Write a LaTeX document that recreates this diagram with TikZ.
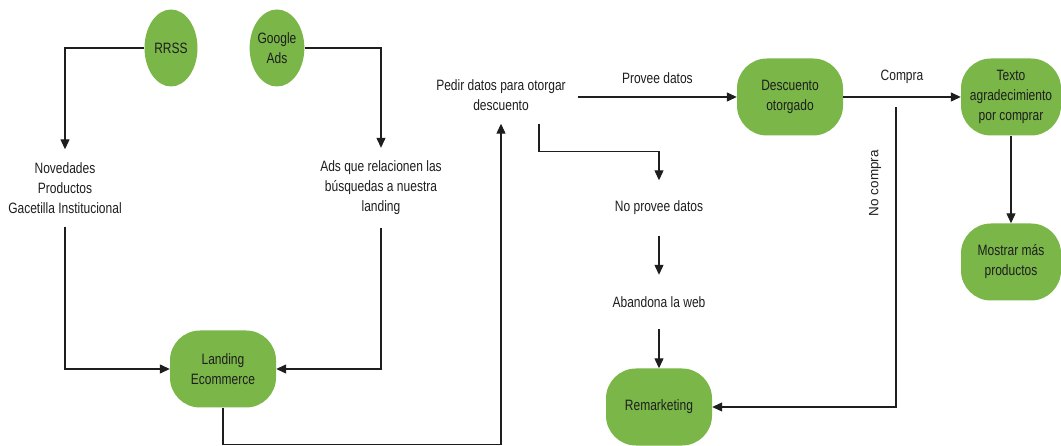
\documentclass[tikz,border=0pt]{standalone}
\usepackage{fontspec}
\setmainfont[FakeStretch=0.8]{Liberation Sans}
\newfontfamily\widefont{Liberation Sans}
\usepackage{xcolor}
\usepackage{tikz}
\usetikzlibrary{shapes.geometric, arrows.meta}
\definecolor{leafgreen}{RGB}{122,182,72}
\definecolor{inkgray}{RGB}{30,30,30}
\tikzstyle{source} = [ellipse, minimum width=53pt, minimum height=77pt, inner sep=0pt, fill=leafgreen]
\tikzstyle{stage}  = [rectangle, rounded corners=30pt, minimum width=106pt, minimum height=77pt, inner sep=0pt, fill=leafgreen]
\tikzstyle{note}   = [inner xsep=4pt, inner ysep=13pt]
\tikzstyle{arrow}  = [line width=1.2pt, draw=inkgray, -{Triangle[length=10pt,width=9pt]}]
\tikzset{every node/.style={align=center, text=inkgray, font=\fontsize{15}{20}\selectfont}}

\begin{document}
\begin{tikzpicture}[x=1pt, y=-1pt]
    \useasboundingbox (0,0) rectangle (1061,446);

    \node (rrss)    at ( 171,  48) [source] {RRSS};
    \node (gads)    at ( 277,  48) [source] {Google\\Ads};
    \node (nov)     at (  65, 188) [note]   {Novedades\\Productos\\Gacetilla Institucional};
    \node (ads)     at ( 381, 188) [note]   {Ads que relacionen las\\búsquedas a nuestra\\landing};
    \node (land)    at ( 223, 369) [stage]  {Landing\\Ecommerce};
    \node (pedir)   at ( 501,  95) [note, inner xsep=12pt] {Pedir datos para otorgar\\descuento};
    \node (desc)    at ( 790,  97) [stage]  {Descuento\\otorgado};
    \node (texto)   at (1011,  97) [stage, minimum width=100pt] {Texto\\agradecimiento\\por comprar};
    \node (mostrar) at (1011, 262) [stage, minimum width=100pt] {Mostrar más\\productos};
    \node (noprov)  at ( 659, 208) [note, inner ysep=20.5pt] {No provee datos};
    \node (aband)   at ( 659, 302) [note, inner ysep=21.5pt] {Abandona la web};
    \node (remk)    at ( 659, 407) [stage]  {Remarketing};
    \node (nocomp)  at ( 875, 183) [rotate=90, font=\widefont\fontsize{13.5}{16}\selectfont] {No compra};
    \coordinate (split) at (896, 107);

    \draw [arrow] (rrss.west) -| (nov.north);
    \draw [arrow] (gads.east) -| (ads.north);
    \draw [arrow] (nov.south) |- (land.west);
    \draw [arrow] (ads.south) |- (land.east);
    \draw [arrow] (land.south) -- ++(0,37) -| (pedir.south);
    \draw [arrow] (pedir.east |- desc.west) -- node[above=9pt]{Provee datos} (desc.west);
    \draw [arrow] ([xshift=38pt]pedir.south) -- ++(0,28) -| (noprov.north);
    \draw [arrow] (noprov) -- (aband);
    \draw [arrow] (aband) -- (remk);
    \draw [arrow] (desc) -- node[above=9pt]{Compra} (texto);
    \draw [arrow] (split) |- (remk.east);
    \draw [arrow] (texto) -- (mostrar);
\end{tikzpicture}
\end{document}
